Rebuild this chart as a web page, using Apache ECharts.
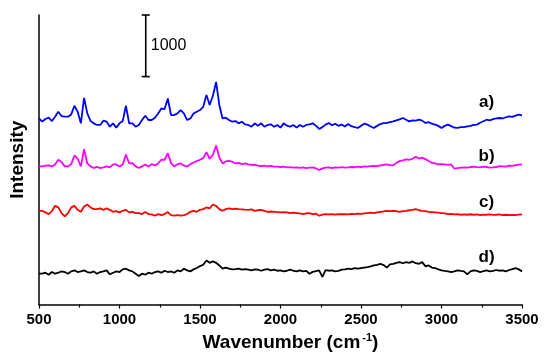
<!DOCTYPE html>
<html><head><meta charset="utf-8">
<script src="https://cdn.jsdelivr.net/npm/echarts@6/dist/echarts.min.js"></script>
<style>html,body{margin:0;padding:0;background:#fff}#c{width:550px;height:357px}</style>
</head><body><div id="c"></div>
<script>
const wavenumbers = [500,520,540,560,580,600,620,640,660,680,700,720,740,760,780,800,820,840,860,880,900,920,940,960,980,1000,1020,1040,1060,1080,1100,1120,1140,1160,1180,1200,1220,1240,1260,1280,1300,1320,1340,1360,1380,1400,1420,1440,1460,1480,1500,1520,1540,1560,1580,1600,1620,1640,1660,1680,1700,1720,1740,1760,1780,1800,1820,1840,1860,1880,1900,1920,1940,1960,1980,2000,2020,2040,2060,2080,2100,2120,2140,2160,2180,2200,2220,2240,2260,2280,2300,2320,2340,2360,2380,2400,2420,2440,2460,2480,2500,2520,2540,2560,2580,2600,2620,2640,2660,2680,2700,2720,2740,2760,2780,2800,2820,2840,2860,2880,2900,2920,2940,2960,2980,3000,3020,3040,3060,3080,3100,3120,3140,3160,3180,3200,3220,3240,3260,3280,3300,3320,3340,3360,3380,3400,3420,3440,3460,3480,3500];

const spectrumA = [3021,2968,3012,3033,2979,3049,3129,3060,3049,3049,3086,3226,3129,2941,3355,3102,2979,2941,2915,2915,2984,2968,2887,2941,2871,2941,2979,3226,2941,2941,2887,2915,2995,3065,2995,2995,3033,3102,3182,3173,3344,3076,3076,3102,3157,3102,2995,3021,3102,3129,3157,3210,3400,3240,3390,3613,3240,3021,3033,2995,2968,2979,2941,2968,2925,2915,2887,2941,2903,2941,2887,2915,2925,2887,2915,2871,2941,2903,2887,2915,2871,2915,2887,2915,2925,2941,2903,2850,2880,2920,2947,2910,2935,2900,2920,2890,2930,2895,2880,2866,2900,2935,2920,2890,2866,2900,2930,2945,2947,2960,2973,2990,3005,3028,3000,2973,2990,2985,3000,2985,2947,2960,2935,2920,2900,2866,2900,2920,2895,2870,2866,2880,2880,2892,2900,2915,2920,2950,2975,3000,2990,3010,3020,3028,3020,3040,3054,3045,3065,3081,3070];

const spectrumB = [2242,2242,2253,2258,2242,2274,2350,2311,2242,2242,2279,2420,2366,2242,2520,2290,2242,2215,2237,2215,2226,2242,2226,2274,2274,2242,2274,2436,2290,2295,2242,2215,2242,2274,2242,2279,2258,2290,2350,2350,2457,2295,2242,2279,2290,2253,2242,2279,2306,2328,2350,2376,2473,2366,2431,2581,2387,2290,2323,2330,2318,2290,2300,2279,2290,2274,2265,2269,2255,2247,2253,2242,2250,2237,2240,2232,2237,2226,2230,2221,2226,2218,2226,2215,2221,2226,2210,2183,2210,2221,2226,2215,2226,2221,2230,2221,2226,2232,2228,2237,2232,2242,2237,2247,2250,2247,2258,2265,2274,2262,2258,2300,2328,2340,2355,2350,2366,2398,2370,2385,2360,2330,2301,2290,2274,2279,2274,2268,2274,2205,2215,2221,2226,2221,2232,2237,2230,2226,2237,2232,2221,2226,2232,2247,2242,2237,2253,2250,2263,2270,2274];

const spectrumC = [1521,1521,1495,1468,1516,1602,1576,1484,1431,1484,1576,1602,1537,1505,1590,1624,1576,1548,1548,1560,1537,1560,1537,1505,1516,1495,1521,1537,1495,1505,1484,1484,1468,1500,1468,1462,1441,1468,1452,1468,1500,1452,1441,1452,1441,1452,1468,1505,1521,1505,1537,1548,1576,1560,1624,1602,1548,1521,1548,1560,1548,1555,1548,1545,1540,1537,1545,1521,1530,1537,1520,1505,1510,1505,1500,1495,1500,1495,1484,1490,1484,1478,1468,1480,1484,1468,1475,1441,1460,1468,1462,1468,1460,1468,1465,1468,1462,1470,1468,1475,1470,1478,1484,1490,1484,1495,1505,1510,1521,1515,1521,1516,1505,1515,1521,1530,1537,1548,1530,1521,1515,1505,1500,1495,1490,1484,1478,1468,1472,1462,1468,1457,1462,1457,1465,1457,1462,1452,1460,1457,1462,1455,1457,1462,1452,1457,1450,1455,1452,1460,1462];

const spectrumD = [500,500,516,484,527,500,516,538,527,500,538,554,527,538,554,527,516,538,500,527,538,554,490,516,538,527,570,581,554,538,500,463,500,484,516,500,527,538,516,548,527,538,516,554,538,581,554,538,570,592,624,645,715,677,699,677,634,581,600,581,570,575,581,565,575,565,554,570,565,548,565,575,554,565,548,554,538,548,565,548,538,554,538,545,500,530,540,554,447,560,548,554,538,545,565,570,581,575,590,581,592,600,608,620,634,645,661,640,600,650,661,677,688,670,688,677,699,670,661,688,620,634,600,592,570,554,545,538,527,538,554,545,538,490,538,554,545,527,540,554,538,545,560,548,554,538,560,575,592,570,538];

const curveNames = ['a)', 'b)', 'c)', 'd)'];
const curveColors = ['#0000FF', '#FF00FF', '#FF0000', '#000000'];
const curveLabelX = 3280;
const curveLabelY = [3290, 2403, 1661, 758];

const scaleBarX = 1163;
const scaleBarRange = [3700, 4700];
const scaleBarText = '1000';

const FONT = '"Liberation Sans", Arial, sans-serif';
const spectra = [spectrumA, spectrumB, spectrumC, spectrumD];

const chart = echarts.init(document.getElementById('c'), null, {renderer: 'canvas'});

const lineSeries = spectra.map((ys, i) => ({
  type: 'line',
  name: curveNames[i],
  data: wavenumbers.map((x, k) => [x, ys[k]]),
  showSymbol: false,
  symbol: 'none',
  smooth: false,
  lineStyle: {color: curveColors[i], width: 1.8},
  itemStyle: {color: curveColors[i]},
  z: 3,
  markPoint: {
    silent: true,
    symbol: 'circle',
    symbolSize: 0,
    itemStyle: {color: 'transparent'},
    label: {show: true, position: 'inside', formatter: curveNames[i], color: '#000', fontWeight: 'bold', fontSize: 17, fontFamily: FONT},
    data: [{coord: [curveLabelX, curveLabelY[i]], value: curveNames[i]}]
  }
}));

const scaleBar = {
  type: 'custom',
  silent: true,
  data: [[scaleBarX, scaleBarRange[0], scaleBarRange[1]]],
  encode: {x: 0, y: [1, 2]},
  clip: false,
  renderItem: function (params, api) {
    const b = api.coord([api.value(0), api.value(1)]);
    const t = api.coord([api.value(0), api.value(2)]);
    const w = 4;
    const st = {stroke: '#000', lineWidth: 1.6};
    return {
      type: 'group',
      children: [
        {type: 'line', shape: {x1: b[0], y1: b[1], x2: t[0], y2: t[1]}, style: st},
        {type: 'line', shape: {x1: b[0] - w, y1: b[1], x2: b[0] + w, y2: b[1]}, style: st},
        {type: 'line', shape: {x1: t[0] - w, y1: t[1], x2: t[0] + w, y2: t[1]}, style: st},
        {type: 'text', x: b[0] + 5, y: (b[1] + t[1]) / 2,
         style: {text: scaleBarText, fill: '#000', font: '16px ' + FONT, textAlign: 'left', align: 'left', textVerticalAlign: 'middle', verticalAlign: 'middle'}}
      ]
    };
  }
};

chart.setOption({
  animation: false,
  backgroundColor: '#fff',
  grid: {left: 38, right: 28, top: 15, bottom: 51, containLabel: false},
  xAxis: {
    type: 'value', min: 500, max: 3500, interval: 500,
    name: 'Wavenumber (cm{sup|-1})',
    nameLocation: 'middle', nameGap: 28,
    nameTextStyle: {fontFamily: FONT, fontWeight: 'bold', fontSize: 19, color: '#000', padding: [0, 0, 0, 20],
      rich: {sup: {fontFamily: FONT, fontWeight: 'bold', fontSize: 11, color: '#000', verticalAlign: 'top', padding: [0, 0, 9, 2]}}},
    axisLine: {show: true, onZero: false, lineStyle: {color: '#000', width: 1.5}},
    axisTick: {show: true, inside: false, length: 4, lineStyle: {color: '#000', width: 1.2}},
    minorTick: {show: true, splitNumber: 2, length: 3, lineStyle: {color: '#000', width: 1.2}},
    axisLabel: {color: '#000', fontFamily: FONT, fontWeight: 'bold', fontSize: 15, margin: 8,
      formatter: function (v) { return String(v); }},
    splitLine: {show: false}
  },
  yAxis: {
    type: 'value', min: 0, max: 4700,
    name: 'Intensity', nameLocation: 'middle', nameGap: 12, nameRotate: 90,
    nameTextStyle: {fontFamily: FONT, fontWeight: 'bold', fontSize: 19, color: '#000'},
    axisLine: {show: true, onZero: false, lineStyle: {color: '#000', width: 1.5}},
    axisTick: {show: false},
    axisLabel: {show: false},
    splitLine: {show: false}
  },
  series: lineSeries.concat([scaleBar])
});
</script>
</body></html>
